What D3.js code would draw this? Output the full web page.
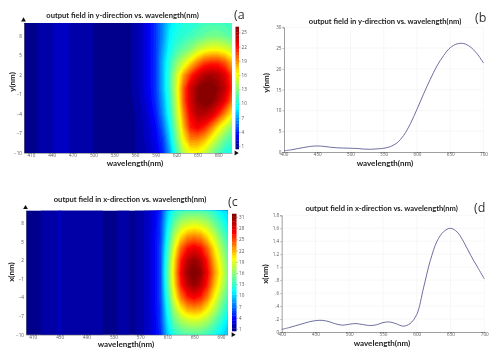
<!DOCTYPE html>
<html>
<head>
<meta charset="utf-8">
<script src="https://cdn.jsdelivr.net/npm/d3@7"></script>
<style>
  html, body { margin: 0; padding: 0; background: #fff; }
  svg { display: block; font-family: Lato, sans-serif; }
  .title { font-weight: 700; font-size: 7.6px; fill: #222; text-anchor: middle; }
  .axis-label { font-weight: 700; font-size: 8px; fill: #222; text-anchor: middle; }
  .panel-letter { font-size: 12.5px; fill: #333; font-family: "Open Sans", sans-serif; }
  .tick text { font-size: 4.6px; fill: #555; font-family: "Open Sans", sans-serif; }
  .tick line, .domain { stroke: #777; }
</style>
</head>
<body>
<svg id="chart" width="500" height="356"></svg>
<script>
// wavelength columns shared by every panel
const wavelengths = [400, 410, 420, 430, 440, 450, 460, 470, 480, 490, 500, 510, 520, 530, 540, 550,
  560, 570, 580, 590, 600, 610, 620, 630, 640, 650, 660, 670, 680, 690, 700];

// (a) field map, rows from y=10 down to y=-10, step 2
const fieldY = [
  [.5,.8,1,1.2,1.5,1.8,1.7,1.5,1.3,1.1,1,.9,.7,.7,.7,.8, 1.2,2,3,4.5,6.5,8.5,9.5,10,10,10.5,11,11,11,11,10.5],
  [.5,.8,1,1.2,1.5,1.8,1.7,1.5,1.3,1.1,1,.9,.7,.7,.7,.8, 1.2,2,3,4.5,6.5,9,10,10.5,11,11.5,12,12.5,12.5,12,11.5],
  [.5,.8,1,1.2,1.5,1.8,1.7,1.5,1.3,1.1,1,.9,.7,.7,.7,.8, 1.2,2,3,4.5,7,9.5,11,12,13,14.5,15.5,16,16,15.5,14.5],
  [.5,.8,1,1.2,1.5,1.8,1.7,1.5,1.3,1.1,1,.9,.7,.7,.7,.8, 1.2,2,3,4.5,7.5,10.5,13,15,17,19,20.5,21,21,20,18],
  [.5,.8,1,1.2,1.5,1.8,1.7,1.5,1.3,1.1,1,.9,.7,.7,.7,.8, 1.2,2,3,4.5,7.5,11,15,18.5,21,23,24.5,25,24.5,23,20.5],
  [.5,.8,1,1.2,1.5,1.8,1.7,1.5,1.3,1.1,1,.9,.7,.7,.7,.8, 1.2,2,3,4.5,7.5,11,15.5,20,23.5,25.5,26.5,26.5,25.5,24,21],
  [.5,.8,1,1.2,1.5,1.8,1.7,1.5,1.3,1.1,1,.9,.7,.7,.7,.8, 1.1,1.8,2.8,4.3,7,10.5,15,20,23.5,25.5,26.5,26,24.5,22.5,19.5],
  [.5,.8,1,1.2,1.5,1.8,1.7,1.5,1.3,1.1,1,.9,.7,.7,.7,.8, 1,1.6,2.5,3.8,6.5,10,14.5,19,22.5,24.5,24.5,23.5,21.5,19,16.5],
  [.5,.8,1,1.2,1.5,1.8,1.7,1.5,1.3,1.1,1,.9,.7,.7,.7,.8, 1,1.5,2.2,3.3,5.5,9,13.5,18,21.5,22.5,21.5,19.5,17,15,13],
  [.5,.8,1,1.2,1.5,1.8,1.7,1.5,1.3,1.1,1,.9,.7,.7,.7,.8, 1,1.4,2,3,4.5,8,12.5,16.5,19,19,18,16,14,12,11],
  [.5,.8,1,1.2,1.5,1.8,1.7,1.5,1.3,1.1,1,.9,.7,.7,.7,.8, 1,1.3,1.8,2.5,4,7,11,14.5,16,16,15,13,11.5,10,9.5],
];

// (c) field map, same layout
const fieldX = [
  [.6,.8,1.1,1.4,1.7,1.9,1.7,1.4,1.2,1.2,1.3,1.2,1.1,1.1,1.2,1.2,1.1, 1.5,2.2,3.2,5,9.5,12.5,13.5,14,14,14,13.5,12.5,11,10],
  [.6,.8,1.1,1.4,1.7,1.9,1.7,1.4,1.2,1.2,1.3,1.2,1.1,1.1,1.2,1.2,1.1, 1.5,2.2,3.3,5.5,10.5,14.5,17,18,18.5,18,17,15,13,11],
  [.6,.8,1.1,1.4,1.7,1.9,1.7,1.4,1.2,1.2,1.3,1.2,1.1,1.1,1.2,1.2,1.1, 1.5,2.2,3.5,5.5,11.5,17,20.5,22.5,23,22.5,20.5,18,15,12.5],
  [.6,.8,1.1,1.4,1.7,1.9,1.7,1.4,1.2,1.2,1.3,1.2,1.1,1.1,1.2,1.2,1.1, 1.5,2.2,3.5,6,12.5,19,24,26.5,27.5,26.5,24,20.5,17,14],
  [.6,.8,1.1,1.4,1.7,1.9,1.7,1.4,1.2,1.2,1.3,1.2,1.1,1.1,1.2,1.2,1.1, 1.5,2.2,3.5,6,13.5,20.5,26,29.5,31,29.5,26,22,18.5,15],
  [.6,.8,1.1,1.4,1.7,1.9,1.7,1.4,1.2,1.2,1.3,1.2,1.1,1.1,1.2,1.2,1.1, 1.5,2.2,3.5,6,14,21,27,31,32,31,27,23,19.5,15.5],
  [.6,.8,1.1,1.4,1.7,1.9,1.7,1.4,1.2,1.2,1.3,1.2,1.1,1.1,1.2,1.2,1.1, 1.5,2.2,3.5,6,13.5,20.5,26,29.5,31,29.5,26,22,18.5,15],
  [.6,.8,1.1,1.4,1.7,1.9,1.7,1.4,1.2,1.2,1.3,1.2,1.1,1.1,1.2,1.2,1.1, 1.5,2.2,3.5,6,12.5,19,23.5,26,27,26,23.5,20,16.5,13.5],
  [.6,.8,1.1,1.4,1.7,1.9,1.7,1.4,1.2,1.2,1.3,1.2,1.1,1.1,1.2,1.2,1.1, 1.5,2.2,3.5,5.5,11.5,16.5,20,22,22.5,22,20,17.5,14.5,12],
  [.6,.8,1.1,1.4,1.7,1.9,1.7,1.4,1.2,1.2,1.3,1.2,1.1,1.1,1.2,1.2,1.1, 1.5,2.2,3.3,5.5,10.5,14.5,16.5,17.5,18,17.5,16.5,14.5,12.5,10.5],
  [.6,.8,1.1,1.4,1.7,1.9,1.7,1.4,1.2,1.2,1.3,1.2,1.1,1.1,1.2,1.2,1.1, 1.5,2.2,3.2,5,9.5,12.5,13.5,14,14,14,13,12,10.5,9.5],
];

// (b) and (d) curves, one value per wavelength
const curveY = [.3,.5,.8,1.1,1.35,1.45,1.35,1.15,1,.95,.9,.85,.7,.65,.75,.9,
  1.3,2.2,4,6.8,10.3,14,17.5,20.7,23.2,25.1,26,26.1,25.3,23.7,21.4];
const curveX = [.04,.065,.095,.125,.155,.175,.18,.16,.125,.105,.12,.13,.115,.1,.11,.145,
  .155,.125,.09,.13,.27,.68,1.1,1.4,1.55,1.6,1.54,1.38,1.18,1,.82];

// tick labels
const mapTicksY = [8, 5, 2, -1, -4, -7, -10];
const mapTicksXa = [410, 440, 470, 500, 530, 560, 590, 620, 650, 680];
const mapTicksXc = [410, 450, 490, 530, 570, 610, 650, 690];
const barTicksA = [1, 4, 7, 10, 13, 16, 19, 22, 25];
const barTicksC = [1, 4, 7, 10, 13, 16, 19, 22, 25, 28, 31];
const lineTicksX = [400, 450, 500, 550, 600, 650, 700];
const lineTicksB = [0, 5, 10, 15, 20, 25, 30];
const lineTicksD = [0, .2, .4, .6, .8, 1, 1.2, 1.4, 1.6, 1.8];
const lineLabelsD = ["0", ".2", ".4", ".6", ".8", "1", "1.2", "1.4", "1.6", "1.8"];

const svg = d3.select("#chart");

const defs = svg.append("defs");
defs.append("filter").attr("id", "soft")
  .attr("filterUnits", "userSpaceOnUse")
  .attr("x", 0).attr("y", 0).attr("width", 500).attr("height", 356)
  .append("feGaussianBlur").attr("stdDeviation", 0.4);

const root = svg.append("g").attr("filter", "url(#soft)");
root.append("rect").attr("width", 500).attr("height", 356).attr("fill", "#fff");

// jet colours
const jetStops = ["#00007f", "#0000ff", "#00ffff", "#7fff7f", "#ffff00", "#ff0000", "#7f0000"];
const jetPos = [0, .11, .34, .48, .62, .84, 1];

function drawText(cfg) {
  root.append("text").attr("class", "title").attr("x", cfg.titleX).attr("y", cfg.titleY).text(cfg.title);
  root.append("text").attr("class", "axis-label").attr("x", cfg.xLabelX).attr("y", cfg.xLabelY).text("wavelength(nm)");
  root.append("text").attr("class", "axis-label")
    .attr("transform", `translate(${cfg.yLabelX},${cfg.yLabelY}) rotate(-90)`)
    .text(cfg.yLabel);
  root.append("text").attr("class", "panel-letter").attr("x", cfg.letterX).attr("y", cfg.letterY).text(cfg.letter);
}

function drawMap(cfg) {
  const id = "clip-" + cfg.letter.slice(1);
  defs.append("clipPath").attr("id", id).append("rect")
    .attr("x", cfg.left).attr("y", cfg.top)
    .attr("width", cfg.right - cfg.left).attr("height", cfg.bottom - cfg.top);

  const x = d3.scaleLinear().domain([400, 700]).range([cfg.left, cfg.right]);
  const y = d3.scaleLinear().domain([-10, 10]).range([cfg.bottom, cfg.top]);
  const rows = cfg.grid.length;
  const cols = wavelengths.length;
  const colX = d3.scaleLinear().domain([0.5, cols - 0.5]).range([cfg.left, cfg.right]);
  const rowY = d3.scaleLinear().domain([0.5, rows - 0.5]).range([cfg.top, cfg.bottom]);

  const colour = d3.scaleLinear()
    .domain(jetPos.map((p) => cfg.barMin + p * (cfg.barMax - cfg.barMin)))
    .range(jetStops)
    .clamp(true);

  const thresholds = d3.range(cfg.barMin, cfg.barMax, cfg.step);
  const contours = d3.contours().size([cols, rows]).smooth(true).thresholds(thresholds)(cfg.grid.flat());
  const path = d3.geoPath(d3.geoTransform({
    point(px, py) { this.stream.point(colX(px), rowY(py)); },
  }));

  const g = root.append("g").attr("clip-path", `url(#${id})`);
  g.append("rect").attr("x", cfg.left).attr("y", cfg.top)
    .attr("width", cfg.right - cfg.left).attr("height", cfg.bottom - cfg.top)
    .attr("fill", colour(cfg.barMin));
  g.selectAll("path").data(contours).enter().append("path")
    .attr("d", path)
    .attr("fill", (d) => colour(d.value + cfg.step / 2));

  // axes
  const xAxis = root.append("g").attr("transform", `translate(0,${cfg.bottom})`)
    .call(d3.axisBottom(x).tickValues(cfg.ticksX).tickSize(0).tickPadding(1));
  const yAxis = root.append("g").attr("transform", `translate(${cfg.left},0)`)
    .call(d3.axisLeft(y).tickValues(mapTicksY).tickSize(0).tickPadding(2));
  xAxis.select(".domain").attr("stroke", "#444").attr("stroke-width", 0.6);
  yAxis.select(".domain").attr("stroke", "#444").attr("stroke-width", 0.6);

  // little arrow heads at the axis ends
  root.append("path").attr("d", d3.symbol(d3.symbolTriangle, 10)())
    .attr("transform", `translate(${cfg.left - 0.5},${cfg.top - 3})`).attr("fill", "#111");
  root.append("path").attr("d", d3.symbol(d3.symbolTriangle, 10)())
    .attr("transform", `translate(${cfg.arrowX},${cfg.bottom}) rotate(90)`).attr("fill", "#111");

  // colour bar
  const bar = d3.scaleLinear().domain([cfg.barMin, cfg.barMax]).range([cfg.barBottom, cfg.barTop]);
  root.append("g").selectAll("rect").data(thresholds).enter().append("rect")
    .attr("x", cfg.barLeft).attr("width", cfg.barWidth)
    .attr("y", (d) => bar(Math.min(d + cfg.step, cfg.barMax)))
    .attr("height", (d) => bar(d) - bar(Math.min(d + cfg.step, cfg.barMax)) + 0.3)
    .attr("fill", (d) => colour(d + cfg.step / 2));
  const barAxis = root.append("g").attr("transform", `translate(${cfg.barLeft + cfg.barWidth},0)`)
    .call(d3.axisRight(bar).tickValues(cfg.barTicks).tickSize(1.5).tickPadding(1));
  barAxis.select(".domain").remove();
  barAxis.selectAll(".tick line").attr("stroke-width", 0.5);

  drawText(cfg);
}

function drawLine(cfg) {
  const x = d3.scaleLinear().domain([400, 700]).range([cfg.left, cfg.right]);
  const y = d3.scaleLinear().domain(cfg.yDomain).range([cfg.bottom, cfg.top]);

  const grid = root.append("g").attr("stroke", "#f1f1f1").attr("stroke-width", 0.6);
  grid.selectAll("line.v").data(lineTicksX.slice(1)).enter().append("line").attr("class", "v")
    .attr("x1", x).attr("x2", x).attr("y1", cfg.top).attr("y2", cfg.bottom);
  grid.selectAll("line.h").data(cfg.ticksY.slice(1)).enter().append("line").attr("class", "h")
    .attr("x1", cfg.left).attr("x2", cfg.right).attr("y1", y).attr("y2", y);

  const xAxis = root.append("g").attr("transform", `translate(0,${cfg.bottom})`)
    .call(d3.axisBottom(x).tickValues(lineTicksX).tickSize(1).tickPadding(0));
  const yAxis = root.append("g").attr("transform", `translate(${cfg.left},0)`)
    .call(d3.axisLeft(y).tickValues(cfg.ticksY).tickSize(1.5).tickPadding(1)
      .tickFormat((d, i) => cfg.labelsY ? cfg.labelsY[i] : d));
  [xAxis, yAxis].forEach((a) => {
    a.select(".domain").attr("stroke-width", 0.7);
    a.selectAll(".tick line").attr("stroke-width", 0.5);
  });

  const line = d3.line()
    .x((d, i) => x(wavelengths[i]))
    .y((d) => y(d))
    .curve(d3.curveCatmullRom);
  root.append("path").datum(cfg.values)
    .attr("d", line).attr("fill", "none")
    .attr("stroke", "#5f5f96").attr("stroke-width", 0.9);

  drawText(cfg);
}

drawMap({
  letter: "(a", grid: fieldY, left: 24, right: 232, top: 23, bottom: 153, arrowX: 236,
  ticksX: mapTicksXa, barTicks: barTicksA, barMin: 0.4, barMax: 26.2, step: 0.6,
  barLeft: 235.5, barWidth: 3.5, barTop: 26.7, barBottom: 149,
  title: "output field in y-direction vs. wavelength(nm)", titleX: 122.5, titleY: 18,
  xLabelX: 135, xLabelY: 165.5, yLabel: "y(nm)", yLabelX: 15, yLabelY: 82,
  letterX: 234, letterY: 19,
});

drawLine({
  letter: "(b", values: curveY, left: 284, right: 483.5, top: 27.3, bottom: 152,
  yDomain: [0, 30], ticksY: lineTicksB,
  title: "output field in y-direction vs. wavelength(nm)", titleX: 385, titleY: 24,
  xLabelX: 385, xLabelY: 166, yLabel: "y(nm)", yLabelX: 268.5, yLabelY: 83,
  letterX: 475, letterY: 22,
});

drawMap({
  letter: "(c", grid: fieldX, left: 26, right: 227.7, top: 210.7, bottom: 334.7, arrowX: 233,
  ticksX: mapTicksXc, barTicks: barTicksC, barMin: 0.46, barMax: 31.9, step: 0.7,
  barLeft: 232, barWidth: 4.5, barTop: 213.7, barBottom: 331,
  title: "output field in x-direction vs. wavelength(nm)", titleX: 130, titleY: 202,
  xLabelX: 126, xLabelY: 347, yLabel: "x(nm)", yLabelX: 13.5, yLabelY: 272,
  letterX: 228, letterY: 206,
});

drawLine({
  letter: "(d", values: curveX, left: 281.7, right: 484.3, top: 215.3, bottom: 332,
  yDomain: [0, 1.8], ticksY: lineTicksD, labelsY: lineLabelsD,
  title: "output field in x-direction vs. wavelength(nm)", titleX: 381.7, titleY: 211,
  xLabelX: 382, xLabelY: 346, yLabel: "x(nm)", yLabelX: 267.5, yLabelY: 274,
  letterX: 474, letterY: 212,
});
</script>
</body>
</html>
